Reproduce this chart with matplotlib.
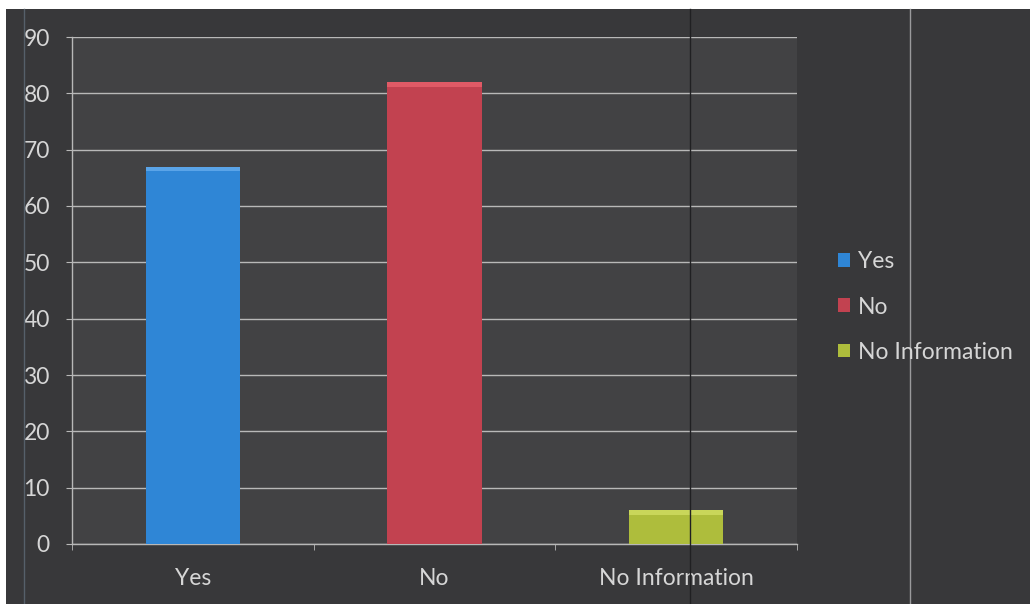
import matplotlib
matplotlib.use("Agg")
import matplotlib.pyplot as plt
from matplotlib.patches import Rectangle
from matplotlib.lines import Line2D

categories = ["Yes", "No", "No Information"]
values = [67, 82, 6]
colors = ["#2f86d6", "#c24250", "#aebd3c"]
highlight = ["#5aa4e8", "#e05a66", "#c9d65a"]
y_ticks = [0, 10, 20, 30, 40, 50, 60, 70, 80, 90]

plt.rcParams['font.family'] = ['Lato', 'DejaVu Sans']
txt = "#d6d6d6"
grid = "#b8b8b8"
fs = 16.5

W, H = 1030, 604
fig = plt.figure(figsize=(W / 100, H / 100), dpi=100, facecolor="#38383a")
# white scan margin
fig.add_artist(Rectangle((0, 1 - 9 / H), 1, 9 / H, transform=fig.transFigure,
                         facecolor="white", edgecolor="none", zorder=-5))
fig.add_artist(Rectangle((0, 0), 6 / W, 1, transform=fig.transFigure,
                         facecolor="white", edgecolor="none", zorder=-5))

ax = fig.add_axes([72 / W, 1 - 544 / H, (797 - 72) / W, (544 - 37) / H])
ax.set_facecolor("#424244")

x = list(range(len(categories)))
bw = 0.39
ax.bar(x, values, width=bw, color=colors, zorder=3)
# bevel highlight at top of each bar
ax.bar(x, [0.8] * len(values), bottom=[v - 0.8 for v in values], width=bw,
       color=highlight, zorder=4)

ax.set_xlim(-0.5, len(categories) - 0.5)
ax.set_ylim(0, 90)
ax.set_yticks(y_ticks)
ax.set_yticklabels([str(t) for t in y_ticks], color=txt, fontsize=fs)
ax.set_xticks(x)
ax.set_xticklabels(categories, color=txt, fontsize=fs)
ax.set_xticks([i - 0.5 for i in range(len(categories) + 1)], minor=True)
ax.tick_params(axis='x', which='major', length=0, pad=17)
ax.tick_params(axis='x', which='minor', length=4.5, color=grid, direction='out')
ax.tick_params(axis='y', which='major', length=4.5, color=grid, pad=11.5)

ax.grid(axis='y', color=grid, linewidth=1, zorder=1)
for s in ['top', 'right']:
    ax.spines[s].set_visible(False)
for s in ['left', 'bottom']:
    ax.spines[s].set_color(grid)
    ax.spines[s].set_linewidth(1)

handles = [Rectangle((0, 0), 1, 1, facecolor=c, edgecolor='none') for c in colors]
leg = fig.legend(handles, categories, loc='center left',
                 bbox_to_anchor=(817 / W, 1 - 307 / H), frameon=False,
                 fontsize=fs, labelcolor=txt, handlelength=0.55, handleheight=0.55,
                 handletextpad=0.35, labelspacing=1.05)

# scan artifact lines
fig.add_artist(Line2D([910 / W, 910 / W], [0, 1 - 9 / H], transform=fig.transFigure,
                      color="#9a9a9c", linewidth=1))
fig.add_artist(Line2D([690 / W, 690 / W], [0, 1 - 9 / H], transform=fig.transFigure,
                      color="#202022", linewidth=1, zorder=10))
fig.add_artist(Line2D([24 / W, 24 / W], [0, 1 - 9 / H], transform=fig.transFigure,
                      color="#56606a", linewidth=1))

fig.savefig("out.png", dpi=100, facecolor=fig.get_facecolor())
